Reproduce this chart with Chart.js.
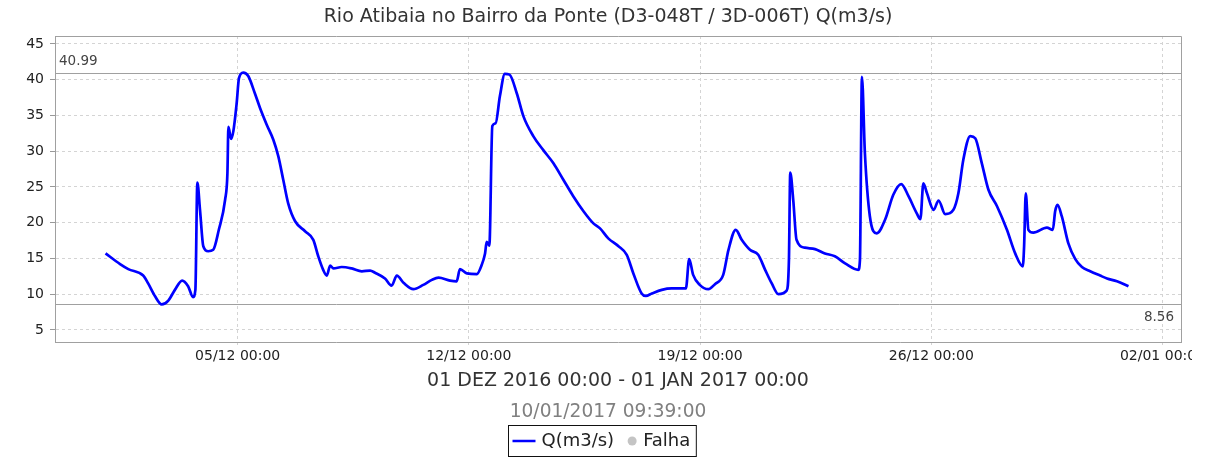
<!DOCTYPE html>
<html>
<head>
<meta charset="utf-8">
<script src="https://cdn.jsdelivr.net/npm/chart.js@4"></script>
<style>
  html, body { margin: 0; padding: 0; background: #fff; }
</style>
</head>
<body>
<canvas id="flowChart" width="1216" height="459"></canvas>
<script>
const chartTitle = 'Rio Atibaia no Bairro da Ponte (D3-048T / 3D-006T) Q(m3/s)';
const periodLabel = '01 DEZ 2016 00:00 - 01 JAN 2017 00:00';
const generatedAt = '10/01/2017 09:39:00';

// x = day of December (1 = 01/12 00:00, 32 = 01/01 00:00)
const days = [1.00,1.44,1.69,2.14,2.29,2.50,2.70,2.90,3.10,3.32,
  3.50,3.65,3.72,3.78,3.86,3.96,4.11,4.26,4.43,4.62,
  4.69,4.72,4.80,4.87,4.97,5.04,5.17,5.32,5.52,5.68,
  5.88,6.08,6.23,6.38,6.53,6.74,7.04,7.29,7.44,7.59,
  7.70,7.80,7.90,8.15,8.45,8.76,9.01,9.16,9.46,9.66,
  9.82,10.02,10.32,10.62,10.88,11.08,11.43,11.63,11.73,11.94,
  12.24,12.39,12.49,12.54,12.62,12.71,12.81,12.94,13.09,13.23,
  13.45,13.65,13.95,14.26,14.56,14.86,15.16,15.47,15.77,15.97,
  16.22,16.53,16.78,16.98,17.23,17.36,17.54,17.84,18.14,18.57,
  18.67,18.79,18.99,19.25,19.45,19.70,19.86,20.08,20.26,20.51,
  20.76,20.97,21.17,21.37,21.62,21.69,21.73,21.82,21.92,22.17,
  22.48,22.78,23.08,23.39,23.79,23.84,23.90,23.99,24.14,24.35,
  24.60,24.85,25.09,25.31,25.56,25.67,25.76,25.87,26.07,26.22,
  26.42,26.67,26.82,26.97,27.18,27.33,27.53,27.73,27.99,28.29,
  28.54,28.77,28.81,28.86,28.94,29.09,29.50,29.68,29.75,29.82,
  29.95,30.15,30.36,30.56,30.81,31.11,31.32,31.62,31.97];

const flow = [15.7,14.2,13.5,12.6,11.5,9.7,8.56,9.1,10.6,11.9,
  11.1,9.6,10.6,25.6,21.8,16.7,16.0,16.2,19.0,23.2,
  26.9,33.4,31.7,32.8,36.7,40.2,40.99,40.5,38.1,36.0,
  33.7,31.6,29.3,26.0,22.7,20.2,18.8,17.6,15.3,13.4,
  12.6,14.0,13.6,13.8,13.6,13.2,13.3,13.0,12.2,11.2,
  12.6,11.6,10.7,11.3,12.0,12.3,11.9,11.8,13.5,12.9,
  12.8,14.1,15.7,17.3,16.8,33.5,33.9,37.7,40.8,40.7,
  38.1,34.9,32.1,30.1,28.3,26.0,23.7,21.6,19.9,19.2,
  17.8,16.7,15.5,12.9,10.1,9.75,10.1,10.6,10.8,10.8,
  14.9,12.7,11.3,10.7,11.4,12.7,16.2,19.0,17.6,16.2,
  15.5,13.4,11.5,10.0,10.5,14.8,27.0,23.2,17.6,16.5,
  16.3,15.7,15.3,14.3,13.4,14.8,40.4,29.7,20.9,18.5,
  20.4,23.9,25.4,23.7,21.3,20.5,25.5,24.1,21.8,23.1,
  21.2,21.8,24.1,28.8,32.1,31.8,28.3,24.6,22.3,19.0,
  15.7,13.9,16.7,24.1,19.0,18.6,19.3,19.0,21.6,22.5,
  20.9,17.1,14.9,13.8,13.2,12.6,12.2,11.8,11.1];

const tickDays = [5, 12, 19, 26, 33];
const tickLabels = ['05/12 00:00', '12/12 00:00', '19/12 00:00', '26/12 00:00', '02/01 00:00'];
const yTicks = [5, 10, 15, 20, 25, 30, 35, 40, 45];

const maxFlow = 40.99;
const minFlow = 8.56;

Chart.defaults.font.family = "'DejaVu Sans', sans-serif";
Chart.defaults.color = '#333';

const gridColor = '#d4d4d4';
const frameColor = '#a0a0a0';

// the last x label is cut at the canvas edge in the original
const clipRight = {
    id: 'clipRight',
    beforeDraw(chart) {
        chart.ctx.save();
        chart.ctx.beginPath();
        chart.ctx.rect(0, 0, 1192, chart.height);
        chart.ctx.clip();
    },
    afterDraw(chart) {
        chart.ctx.restore();
    }
};

// max / min reference lines with their values
const refLines = {
    id: 'refLines',
    beforeDatasetsDraw(chart) {
        const { ctx, chartArea: a, scales: { y } } = chart;
        const yMax = Math.round(y.getPixelForValue(maxFlow)) + 0.5;
        const yMin = Math.round(y.getPixelForValue(minFlow)) + 0.5;
        ctx.save();
        ctx.strokeStyle = frameColor;
        ctx.lineWidth = 1;
        ctx.beginPath();
        ctx.moveTo(a.left, yMax); ctx.lineTo(a.right, yMax);
        ctx.moveTo(a.left, yMin); ctx.lineTo(a.right, yMin);
        ctx.stroke();
        ctx.font = "13.5px 'DejaVu Sans'";
        ctx.fillStyle = '#444';
        ctx.textBaseline = 'middle';
        ctx.textAlign = 'left';
        ctx.fillText(maxFlow.toFixed(2), a.left + 4, yMax - 12.5);
        ctx.textAlign = 'right';
        ctx.fillText(minFlow.toFixed(2), a.right - 7, yMin + 13);
        ctx.restore();
    }
};

// plot frame (top/right) and the boxed legend under the chart
const frameAndLegend = {
    id: 'frameAndLegend',
    afterDraw(chart) {
        const { ctx, chartArea: a } = chart;
        ctx.save();
        ctx.strokeStyle = frameColor;
        ctx.lineWidth = 1;
        ctx.beginPath();
        ctx.moveTo(a.left, Math.round(a.top) + 0.5);
        ctx.lineTo(Math.round(a.right) + 0.5, Math.round(a.top) + 0.5);
        ctx.lineTo(Math.round(a.right) + 0.5, a.bottom);
        ctx.stroke();

        const ds = chart.data.datasets;
        ctx.font = "18px 'DejaVu Sans'";
        const w0 = ctx.measureText(ds[0].label).width;
        const w1 = ctx.measureText(ds[1].label).width;
        const total = 4 + 23 + 6 + w0 + 18 + 11 + w1 + 6;
        const x0 = Math.round(chart.width / 2 - 6 - total / 2) + 0.5;
        const top = chart.height - 33.5;
        const cy = top + 15.5;

        ctx.strokeStyle = '#111';
        ctx.strokeRect(x0, top, total, 31);

        ctx.strokeStyle = ds[0].borderColor;
        ctx.lineWidth = 2.5;
        ctx.beginPath();
        ctx.moveTo(x0 + 4, cy);
        ctx.lineTo(x0 + 27, cy);
        ctx.stroke();

        ctx.fillStyle = '#222';
        ctx.textBaseline = 'middle';
        ctx.textAlign = 'left';
        ctx.fillText(ds[0].label, x0 + 33, cy);

        const cx = x0 + 33 + w0 + 18;
        ctx.fillStyle = ds[1].backgroundColor;
        ctx.beginPath();
        ctx.arc(cx, cy, 4.5, 0, Math.PI * 2);
        ctx.fill();

        ctx.fillStyle = '#222';
        ctx.fillText(ds[1].label, cx + 11, cy);
        ctx.restore();
    }
};

const ctx = document.getElementById('flowChart').getContext('2d');
const flowChart = new Chart(ctx, {
    type: 'line',
    data: {
        datasets: [{
            label: 'Q(m3/s)',
            data: days.map((d, i) => ({ x: d, y: flow[i] })),
            borderColor: '#0000ff',
            backgroundColor: '#0000ff',
            borderWidth: 2.7,
            pointRadius: 0,
            cubicInterpolationMode: 'monotone',
            borderJoinStyle: 'round',
            fill: false
        }, {
            label: 'Falha',
            data: [],
            borderColor: '#c4c4c4',
            backgroundColor: '#c4c4c4',
            pointStyle: 'circle',
            showLine: false
        }]
    },
    options: {
        responsive: false,
        animation: false,
        devicePixelRatio: 1,
        layout: { padding: { left: 0, right: 0, top: 0, bottom: 35.5 } },
        plugins: {
            legend: { display: false },
            tooltip: { enabled: false },
            title: {
                display: true,
                text: chartTitle,
                color: '#333',
                font: { size: 19, weight: 'normal' },
                padding: { top: 5.6, bottom: 7.6 }
            },
            subtitle: {
                display: true,
                position: 'bottom',
                text: generatedAt,
                color: '#808080',
                font: { size: 18.6 },
                padding: { top: 8.7, bottom: 0 }
            }
        },
        scales: {
            x: {
                type: 'linear',
                min: -0.53,
                max: 33.56,
                afterBuildTicks: s => { s.ticks = tickDays.map(v => ({ value: v })); },
                afterFit: s => { s.height = 50.4; },
                ticks: {
                    color: '#222',
                    font: { size: 14 },
                    padding: 2,
                    maxRotation: 0,
                    autoSkip: false,
                    callback: (v, i) => tickLabels[i]
                },
                grid: { color: gridColor, tickColor: gridColor, tickLength: 4, tickBorderDash: [2, 2] },
                border: { color: frameColor, dash: [3, 3] },
                title: {
                    display: true,
                    text: periodLabel,
                    color: '#333',
                    font: { size: 19 },
                    padding: 0
                }
            },
            y: {
                min: 3.3,
                max: 46.1,
                afterBuildTicks: s => { s.ticks = yTicks.map(v => ({ value: v })); },
                afterFit: s => { s.width = 55; },
                ticks: { color: '#222', font: { size: 14 }, padding: 6 },
                grid: { color: gridColor, tickColor: '#999', tickLength: 5 },
                border: { color: frameColor, dash: [3, 3] }
            },
            yRight: {
                position: 'right',
                afterFit: s => { s.width = 35; },
                grid: { display: false, drawTicks: false },
                ticks: { display: false },
                border: { display: false }
            }
        }
    },
    plugins: [clipRight, refLines, frameAndLegend]
});
</script>
</body>
</html>
